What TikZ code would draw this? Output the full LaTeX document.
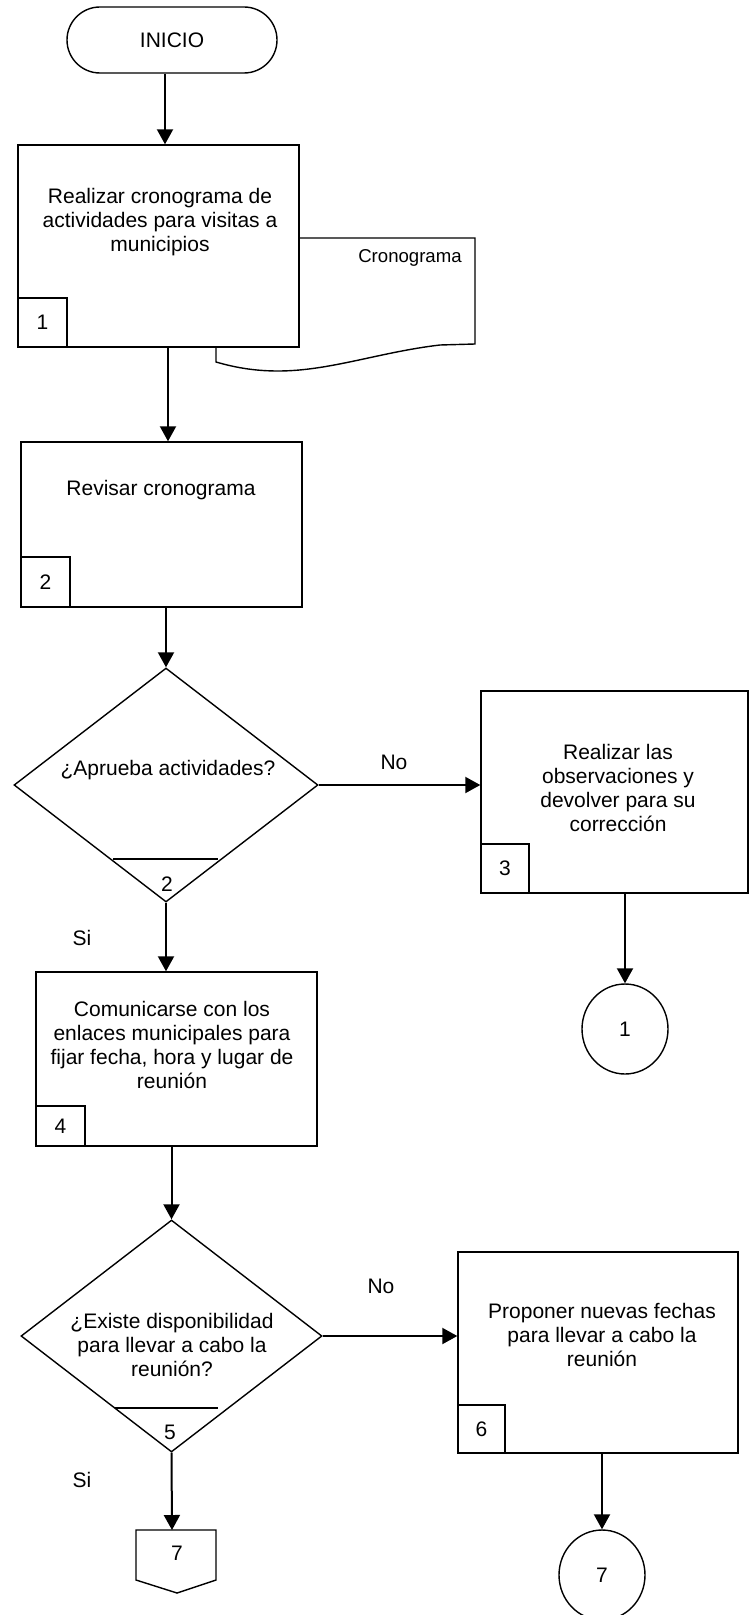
\documentclass[tikz,border=0pt]{standalone}
\usepackage{fontspec}
\setmainfont{Liberation Sans}
\usetikzlibrary{arrows.meta,shapes.geometric,calc}
\begin{document}
\begin{tikzpicture}[x=0.5pt,y=-0.5pt,
  shapeline/.style={draw=black,line width=0.7pt},
  mainfont/.style={font=\fontsize{10.5pt}{12pt}\selectfont},
  procbox/.style={shapeline,rectangle,inner sep=0pt},
  numbox/.style={shapeline,rectangle,inner sep=0pt,anchor=south west,mainfont},
  txt/.style={align=center,inner sep=0pt,mainfont},
  terminal/.style={shapeline,rectangle,rounded corners=16.5pt,inner sep=0pt,mainfont,minimum width=105pt,minimum height=33pt},
  decision/.style={shapeline,diamond,inner sep=0pt},
  connector/.style={shapeline,ellipse,inner sep=0pt,mainfont,minimum width=43pt,minimum height=45pt},
  arr/.style={line width=1pt,-{Triangle[length=7.5pt,width=8pt]}}
]
\useasboundingbox (0,0) rectangle (749,1615);
\fill[white] (0,0) rectangle (749,1615);

% Start
\node[terminal] (inicio) at (172,40) {INICIO};

% Document (behind box 1)
\draw[shapeline,fill=white] (299,238) -- (475,238) -- (475,344) -- (440,345)
  .. controls (380,352) and (330,371) .. (278,371)
  .. controls (250,371) and (230,366) .. (216,362) -- (216,347);
\node[inner sep=0pt,font=\fontsize{9.3pt}{11pt}\selectfont] (doc) at (410,258) {Cronograma};

% Box 1
\node[procbox,fill=white,minimum width=140.5pt,minimum height=101pt] (b1) at (158.5,246) {};
\node[numbox,minimum width=24.5pt,minimum height=24.5pt] (n1) at (b1.south west) {1};
\node[txt] (t1) at (160,222) {Realizar cronograma de\\actividades para visitas a\\municipios};

% Box 2
\node[procbox,minimum width=140.5pt,minimum height=82.5pt] (b2) at (161.5,524.5) {};
\node[numbox,minimum width=24.5pt,minimum height=25pt] (n2) at (b2.south west) {2};
\node[txt] (t2) at (161,490) {Revisar cronograma};

% Decision 1
\node[decision,minimum width=152pt,minimum height=117pt] (d1) at (166,785) {};
\node[txt] (t3) at (168,770) {¿Aprueba actividades?};
\draw[shapeline] (113,859) -- (218,859);
\node[txt] (n3d) at (167,884) {2};

% Box 3
\node[procbox,minimum width=133.5pt,minimum height=101pt] (b3) at (614.5,792) {};
\node[numbox,minimum width=24pt,minimum height=24.5pt] (n3) at (b3.south west) {3};
\node[txt] (t4) at (618,788) {Realizar las\\observaciones y\\devolver para su\\corrección};

% Connector 1
\node[connector] (c1) at (625,1029) {1};

% Box 4
\node[procbox,minimum width=140.5pt,minimum height=87pt] (b4) at (176.5,1059) {};
\node[numbox,minimum width=24.5pt,minimum height=20pt] (n4) at (b4.south west) {4};
\node[txt] (t5) at (172,1045) {Comunicarse con los\\enlaces municipales para\\fijar fecha, hora y lugar de\\reunión};

% Decision 2
\node[decision,minimum width=150.5pt,minimum height=116pt] (d2) at (171.5,1336) {};
\node[txt] (t6) at (172,1345) {¿Existe disponibilidad\\para llevar a cabo la\\reunión?};
\draw[shapeline] (115,1408) -- (218,1408);
\node[txt] (n5d) at (170,1432) {5};

% Box 6
\node[procbox,minimum width=140pt,minimum height=100.5pt] (b6) at (598,1352.5) {};
\node[numbox,minimum width=23.5pt,minimum height=24pt] (n6) at (b6.south west) {6};
\node[txt] (t7) at (602,1335) {Proponer nuevas fechas\\para llevar a cabo la\\reunión};

% Connector 7 (on page)
\node[connector] (c7) at (602,1575) {7};

% Off-page connector 7
\draw[shapeline] (136,1530) -- (216,1530) -- (216,1580) -- (177,1593) -- (136,1580) -- cycle;
\coordinate (pgtop) at (172,1530);
\node[txt] (pg) at (177,1553) {7};

% Connectors
\draw[arr] (inicio.south -| 165,0) -- (b1.north -| 165,0);
\draw[arr] (b1.south -| 168,0) -- (b2.north -| 168,0);
\draw[arr] (b2.south -| d1.north) -- (d1.north);
\draw[arr] (d1.east) -- (b3.west |- d1.east);
\draw[arr] (d1.south) -- (b4.north -| d1.south);
\draw[arr] (b3.south -| c1.north) -- (c1.north);
\draw[arr] (b4.south -| d2.north) -- (d2.north);
\draw[arr] (d2.east) -- (b6.west |- d2.east);
\draw[arr] (d2.south) -- (pgtop);
\draw[arr] (b6.south -| c7.north) -- (c7.north);

% Labels
\node[txt] (no1) at (394,762) {No};
\node[txt] (si1) at (82,938) {Si};
\node[txt] (no2) at (381,1286) {No};
\node[txt] (si2) at (82,1480) {Si};
\end{tikzpicture}
\end{document}
